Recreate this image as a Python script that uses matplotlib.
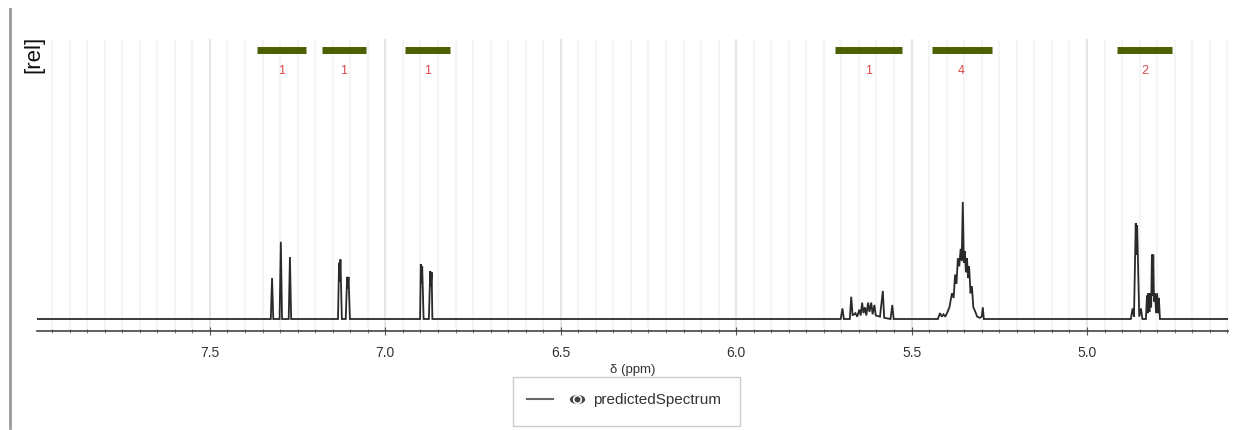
import matplotlib.pyplot as plt
from matplotlib.lines import Line2D
from matplotlib.patches import Rectangle
from matplotlib.path import Path
from matplotlib.ticker import MultipleLocator
import numpy as np

plt.rcParams['font.family'] = ['Liberation Sans', 'DejaVu Sans']

# spectrum vertices per multiplet (ppm, relative intensity)
m1_ppm = [7.335, 7.3265, 7.323, 7.3195, 7.3015, 7.298, 7.2945, 7.2755, 7.272, 7.2685, 7.262]
m1_int = [0, 0, 0.35, 0, 0, 0.66, 0, 0, 0.53, 0, 0]

m2_ppm = [7.140, 7.135, 7.132, 7.130, 7.128, 7.124, 7.113, 7.109, 7.107, 7.105, 7.101, 7.096]
m2_int = [0, 0, 0.48, 0.32, 0.51, 0, 0, 0.36, 0.26, 0.36, 0, 0]

m3_ppm = [6.905, 6.901, 6.899, 6.897, 6.895, 6.891, 6.876, 6.872, 6.870, 6.868, 6.866, 6.862]
m3_int = [0, 0, 0.47, 0.30, 0.45, 0, 0, 0.41, 0.28, 0.40, 0, 0]

m4_ppm = [5.702, 5.697, 5.693, 5.676, 5.672, 5.668, 5.660, 5.655, 5.649, 5.645, 5.641,
          5.637, 5.633, 5.629, 5.624, 5.620, 5.615, 5.611, 5.606, 5.602, 5.590, 5.582,
          5.578, 5.560, 5.555, 5.551]
m4_int = [0, 0.09, 0, 0, 0.19, 0.03, 0.05, 0.02, 0.08, 0.03, 0.14,
          0.05, 0.10, 0.03, 0.14, 0.06, 0.14, 0.04, 0.12, 0.03, 0.02, 0.24,
          0.01, 0, 0.12, 0]

m5_ppm = [5.425, 5.419, 5.414, 5.409, 5.404, 5.399, 5.392, 5.385, 5.380, 5.376, 5.372,
          5.368, 5.364, 5.360, 5.357, 5.354, 5.351, 5.348, 5.345, 5.342, 5.339, 5.336,
          5.332, 5.328, 5.324, 5.318, 5.313, 5.306, 5.300, 5.297, 5.294, 5.290]
m5_int = [0, 0.05, 0.02, 0.04, 0.02, 0.05, 0.10, 0.22, 0.18, 0.38, 0.30,
          0.52, 0.45, 0.60, 0.50, 1.00, 0.48, 0.58, 0.40, 0.52, 0.35, 0.45,
          0.22, 0.28, 0.10, 0.06, 0.02, 0.01, 0.02, 0.10, 0, 0]

m6_ppm = [4.875, 4.870, 4.866, 4.861, 4.859, 4.857, 4.851, 4.846, 4.842]
m6_int = [0, 0.09, 0.02, 0.82, 0.55, 0.80, 0.02, 0.09, 0]

m7_ppm = [4.832, 4.829, 4.827, 4.825, 4.822, 4.820, 4.817, 4.815, 4.813, 4.811, 4.809,
          4.806, 4.803, 4.800, 4.797, 4.795, 4.792]
m7_int = [0, 0.20, 0.05, 0.22, 0.06, 0.22, 0.10, 0.55, 0.20, 0.55, 0.15,
          0.22, 0.05, 0.22, 0.05, 0.18, 0]

# integration ranges and values
integ_from = [7.366, 7.181, 6.944, 5.717, 5.443, 4.913]
integ_to = [7.227, 7.056, 6.816, 5.528, 5.272, 4.759]
integ_labels = ['1', '1', '1', '1', '4', '2']

x_left, x_right = 7.993, 4.598

fig = plt.figure(figsize=(12.44, 4.31), dpi=100)
ax = fig.add_axes([37 / 1244, 99 / 431, (1228 - 37) / 1244, 292 / 431])

ppm = [x_left] + m1_ppm + m2_ppm + m3_ppm + m4_ppm + m5_ppm + m6_ppm + m7_ppm + [x_right]
inten = [0] + m1_int + m2_int + m3_int + m4_int + m5_int + m6_int + m7_int + [0]
ax.plot(ppm, inten, color='#2a2a2a', lw=1.3, solid_joinstyle='miter')

ax.set_xlim(x_left, x_right)
ax.set_ylim(-12 / 117, 280 / 117)

# integrals
trans = ax.get_xaxis_transform()
for a, b, lab in zip(integ_from, integ_to, integ_labels):
    ax.plot([a, b], [0.962, 0.962], color='#4b6000', lw=5, solid_capstyle='butt',
            transform=trans, clip_on=False)
    ax.text((a + b) / 2, 0.895, lab, color='#d9484a', fontsize=9, ha='center',
            va='center', transform=trans)

ax.xaxis.set_major_locator(MultipleLocator(0.5))
ax.xaxis.set_minor_locator(MultipleLocator(0.05))
ax.xaxis.set_major_formatter(lambda v, p: f'{v:.1f}')
ax.grid(which='major', axis='x', color='#e6e6e6', lw=1.5)
ax.grid(which='minor', axis='x', color='#f5f5f5', lw=1.5)
ax.set_axisbelow(True)
ax.set_yticks([])
for s in ['top', 'right', 'left']:
    ax.spines[s].set_visible(False)
ax.spines['bottom'].set_color('#444444')
ax.spines['bottom'].set_linewidth(1.2)
ax.tick_params(axis='x', which='major', direction='inout', length=6, color='#555555',
               labelsize=10, labelcolor='#333333', pad=7)
ax.tick_params(axis='x', which='minor', direction='inout', length=3.5, color='#666666')
ax.set_xlabel('δ (ppm)', fontsize=9.5, color='#333333', labelpad=3)

# left frame line and y label
fig.add_artist(Line2D([10 / 1244, 10 / 1244], [0.005, 1 - 10 / 431], color='#999999', lw=2))
fig.text(34 / 1244, 1 - 54 / 431, '[rel]', rotation=90, fontsize=16, ha='center',
         va='center', color='#111111')

# legend box drawn by hand
fig.add_artist(Rectangle((513 / 1244, 4 / 431), 227 / 1244, 49 / 431, transform=fig.transFigure,
                         facecolor='white', edgecolor='#cccccc', lw=1))
ly = 31 / 431
fig.add_artist(Line2D([527 / 1244, 553 / 1244], [ly, ly], color='#666666', lw=1.5))
t = np.linspace(0, 2 * np.pi, 40)
eye = Path(np.column_stack([np.cos(t), 0.6 * np.sin(t)]))
fig.add_artist(Line2D([577 / 1244], [ly], marker=eye, markersize=11, color='#444444',
                      markeredgewidth=0))
fig.add_artist(Line2D([577 / 1244], [ly], marker='o', markersize=5.5, markerfacecolor='#444444',
                      markeredgecolor='white', markeredgewidth=1.2))
fig.text(593 / 1244, ly, 'predictedSpectrum', fontsize=11, va='center', ha='left',
         color='#333333')

fig.savefig('out.png', dpi=100)
